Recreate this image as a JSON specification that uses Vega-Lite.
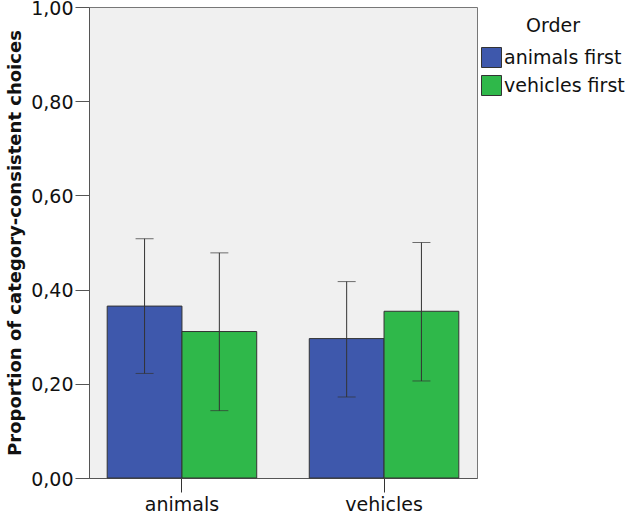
{
  "$schema": "https://vega.github.io/schema/vega-lite/v6.json",
  "autosize": "none",
  "padding": {"left": 89, "top": 7, "right": 153, "bottom": 42},
  "width": 388,
  "height": 471,
  "background": "white",
  "config": {
    "font": "DejaVu Sans",
    "view": {"fill": "#f0f0f0", "stroke": "#777", "strokeWidth": 1}
  },
  "data": {
    "values": [
      {"category": "animals", "order": "animals first", "value": 0.365, "lo": 0.222, "hi": 0.508},
      {"category": "animals", "order": "vehicles first", "value": 0.311, "lo": 0.143, "hi": 0.478},
      {"category": "vehicles", "order": "animals first", "value": 0.296, "lo": 0.172, "hi": 0.417},
      {"category": "vehicles", "order": "vehicles first", "value": 0.354, "lo": 0.206, "hi": 0.500}
    ]
  },
  "encoding": {
    "x": {
      "field": "category",
      "type": "nominal",
      "scale": {"paddingInner": 0.26, "paddingOuter": 0.09},
      "axis": {
        "title": null,
        "labelAngle": 0,
        "labelFontSize": 19,
        "labelColor": "#111",
        "tickSize": 14,
        "tickColor": "#333",
        "domainColor": "#555",
        "labelPadding": 3
      }
    },
    "xOffset": {"field": "order", "type": "nominal", "scale": {"paddingInner": 0, "paddingOuter": 0}}
  },
  "layer": [
    {
      "mark": {"type": "bar", "stroke": "#333", "strokeWidth": 1},
      "encoding": {
        "y": {
          "field": "value",
          "type": "quantitative",
          "scale": {"domain": [0, 1], "nice": false},
          "axis": {
            "title": "Proportion of category-consistent choices",
            "titleFontSize": 18,
            "titleFontWeight": "bold",
            "titleColor": "#111",
            "titlePadding": 6,
            "values": [0, 0.2, 0.4, 0.6, 0.8, 1.0],
            "labelExpr": "replace(format(datum.value, '.2f'), '.', ',')",
            "labelFontSize": 19,
            "labelColor": "#111",
            "labelOffset": 1,
            "tickSize": 14,
            "tickColor": "#555",
            "domainColor": "#555",
            "labelPadding": 2,
            "grid": false
          }
        },
        "color": {
          "field": "order",
          "type": "nominal",
          "scale": {"domain": ["animals first", "vehicles first"], "range": ["#3e58ac", "#2fb84a"]},
          "legend": {
            "title": "Order",
            "orient": "none",
            "legendX": 392,
            "legendY": 10,
            "titleFontSize": 19,
            "titleFontWeight": "normal",
            "titleColor": "#111",
            "titleAnchor": "middle",
            "titlePadding": 11,
            "labelFontSize": 19,
            "labelColor": "#111",
            "labelOffset": 2,
            "symbolType": "square",
            "symbolSize": 400,
            "symbolStrokeColor": "#333",
            "symbolStrokeWidth": 1,
            "symbolOpacity": 1,
            "rowPadding": 3
          }
        }
      }
    },
    {
      "mark": {"type": "rule", "color": "#333", "strokeWidth": 1},
      "encoding": {
        "y": {"field": "lo", "type": "quantitative"},
        "y2": {"field": "hi"}
      }
    },
    {
      "mark": {"type": "tick", "color": "#333", "size": 18, "thickness": 1},
      "encoding": {"y": {"field": "lo", "type": "quantitative"}}
    },
    {
      "mark": {"type": "tick", "color": "#333", "size": 18, "thickness": 1},
      "encoding": {"y": {"field": "hi", "type": "quantitative"}}
    }
  ]
}
